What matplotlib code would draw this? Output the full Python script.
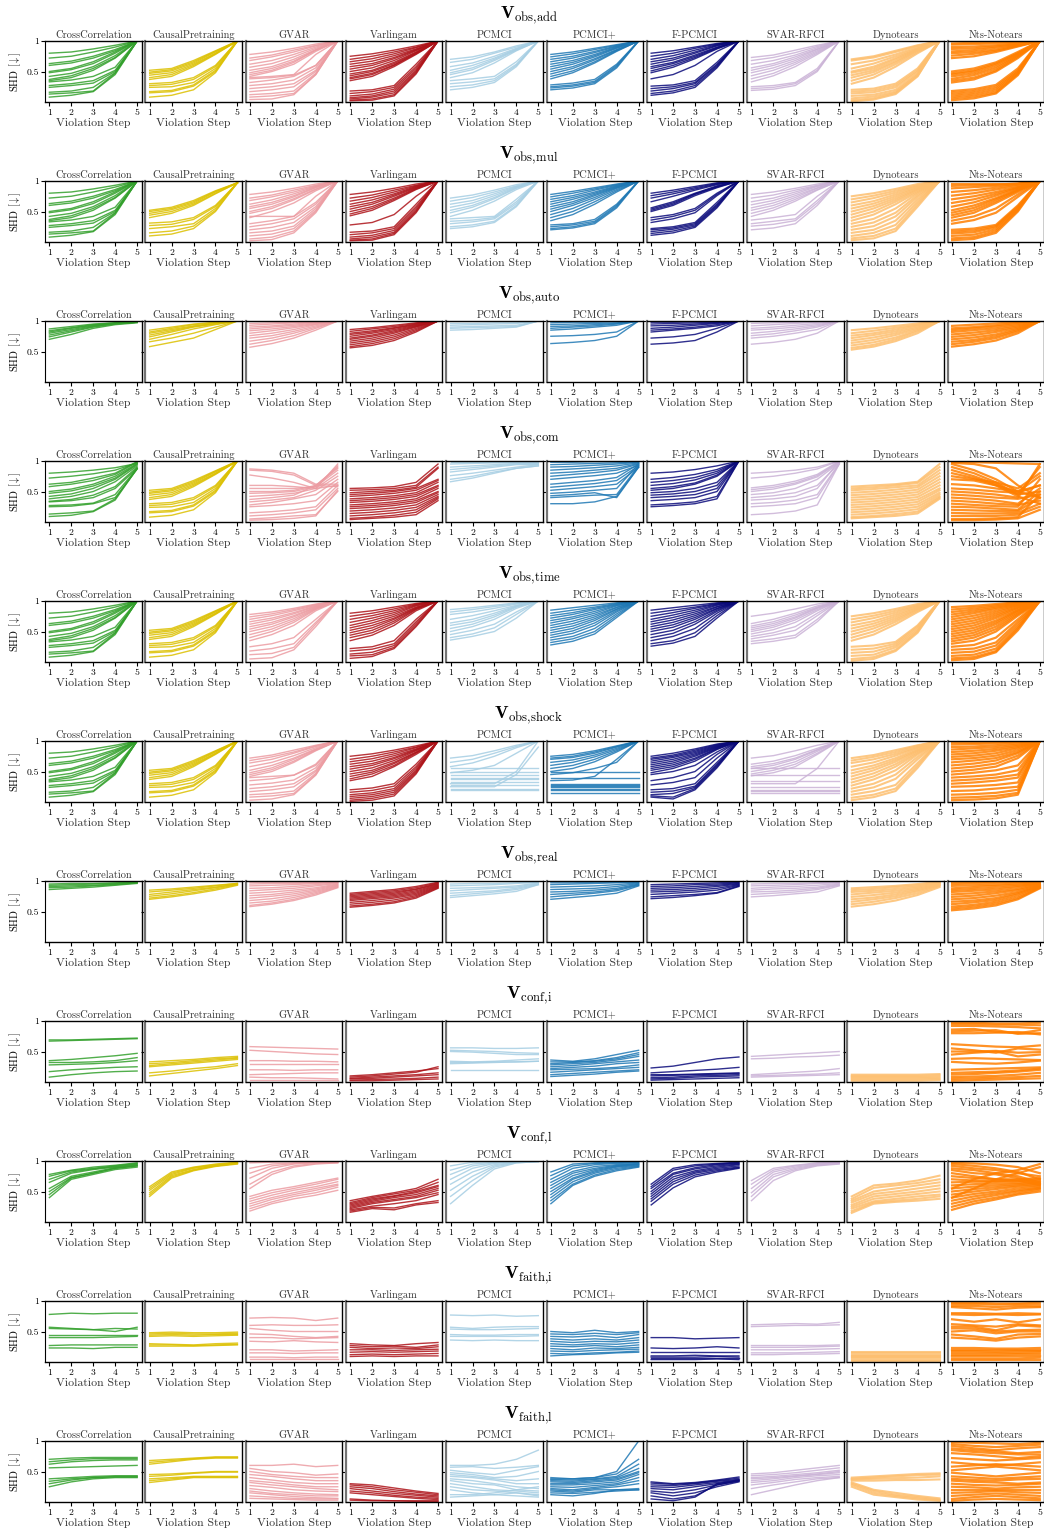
import matplotlib
matplotlib.use("Agg")
import matplotlib.pyplot as plt

plt.rcParams['font.family'] = ['cmr10', 'DejaVu Serif']
plt.rcParams['mathtext.fontset'] = 'cm'
plt.rcParams['axes.formatter.use_mathtext'] = True

METHODS = ["CrossCorrelation", "CausalPretraining", "GVAR", "Varlingam", "PCMCI",
           "PCMCI+", "F-PCMCI", "SVAR-RFCI", "Dynotears", "Nts-Notears"]
COLORS = ["#33a02c", "#dcc000", "#ec9ca2", "#ad1319", "#a6cee3",
          "#1f78b4", "#0a0a7a", "#cab2d6", "#fdbf6f", "#ff7f00"]
STEPS = [1, 2, 3, 4, 5]
Y_TICKS = [0.5, 1.0]
Y_TICK_LABELS = ["0.5", "1"]
ROW_TITLES = [r"$\mathbf{V}_{\mathrm{obs,\!add}}$", r"$\mathbf{V}_{\mathrm{obs,\!mul}}$",
              r"$\mathbf{V}_{\mathrm{obs,\!auto}}$", r"$\mathbf{V}_{\mathrm{obs,\!com}}$",
              r"$\mathbf{V}_{\mathrm{obs,\!time}}$", r"$\mathbf{V}_{\mathrm{obs,\!shock}}$",
              r"$\mathbf{V}_{\mathrm{obs,\!real}}$", r"$\mathbf{V}_{\mathrm{conf,\!i}}$",
              r"$\mathbf{V}_{\mathrm{conf,\!l}}$", r"$\mathbf{V}_{\mathrm{faith,\!i}}$",
              r"$\mathbf{V}_{\mathrm{faith,\!l}}$"]

# SHD values in percent, one list of 5 values (steps 1..5) per line
CC_BASE = [[80,82,87,93,100],[72,75,82,90,100],[63,67,75,86,100],[60,64,72,84,100],
           [50,55,66,82,100],[48,53,63,80,100],[42,47,58,76,100],[37,43,55,73,100],
           [35,40,52,72,100],[33,36,42,57,100],[27,30,35,52,100],[24,27,31,50,100],
           [16,18,24,48,100],[13,15,18,47,100],[8,11,17,45,100]]
CP_BASE = [[52,55,68,84,100],[49,53,66,83,100],[47,51,64,82,100],[44,48,62,80,100],
           [40,45,60,79,100],[37,42,58,78,100],[30,32,40,60,100],[27,29,37,58,100],
           [24,25,32,55,100],[17,19,28,52,100],[15,17,26,50,100],[8,11,20,48,100]]

OBS_ADD = [
    CC_BASE,
    CP_BASE,
    [[78,82,88,95,100],[72,77,85,93,100],[68,74,82,92,100],[62,68,78,90,100],[57,63,74,88,100],
     [52,58,70,86,100],[48,55,67,85,100],[45,52,65,85,100],[42,50,62,83,100],[40,42,45,78,100],
     [38,40,44,60,100],[32,36,42,60,100],[27,30,36,56,100],[22,25,30,52,100],[17,20,25,50,100],
     [12,14,18,47,100],[8,10,14,45,100],[4,5,12,45,100]],
    [[75,79,85,92,100],[70,75,82,90,100],[66,71,79,89,100],[62,67,76,87,100],[58,63,73,86,100],
     [54,60,71,85,100],[50,56,68,84,100],[46,52,65,82,100],[43,50,63,81,100],[40,47,61,80,100],
     [38,45,60,79,100],[35,42,58,78,100],[18,20,27,62,100],[14,17,24,58,100],[10,13,21,55,100],
     [7,10,18,52,100],[5,8,15,50,100],[3,5,12,48,100],[2,3,10,46,100]],
    [[70,74,82,92,100],[65,70,80,90,100],[58,64,75,88,100],[52,60,72,87,100],[48,56,70,86,100],
     [45,53,68,85,100],[40,48,64,84,100],[35,38,42,66,100],[30,33,38,62,100],[25,28,35,60,100],
     [20,24,32,58,100]],
    [[78,82,88,94,100],[74,79,86,93,100],[70,75,83,92,100],[66,72,81,91,100],[62,68,78,90,100],
     [58,65,76,89,100],[54,62,74,88,100],[50,58,71,86,100],[46,55,69,85,100],[42,51,66,84,100],
     [38,48,64,83,100],[28,31,37,62,100],[25,28,34,60,100],[23,26,32,58,100],[20,23,30,56,100]],
    [[80,84,90,96,100],[75,80,88,95,100],[70,76,85,94,100],[66,72,82,93,100],[62,69,80,92,100],
     [58,65,77,90,100],[55,63,75,89,100],[51,60,73,88,100],[48,57,71,87,100],[38,45,60,83,100],
     [26,28,35,65,100],[22,25,32,62,100],[18,22,30,60,100],[14,18,27,58,100],[11,15,24,56,100]],
    [[73,77,85,93,100],[68,73,81,91,100],[62,68,77,89,100],[56,63,74,87,100],[52,60,71,86,100],
     [48,56,68,84,100],[43,52,65,82,100],[38,47,62,80,100],[33,43,58,78,100],[25,27,32,55,100],
     [22,24,30,52,100],[19,21,27,50,100]],
    [[70,75,84,93,100],[68,73,82,92,100],[62,68,78,90,100],[55,63,75,88,100],[50,58,72,87,100],
     [48,55,70,86,100],[44,52,67,85,100],[40,49,65,84,100],[35,45,62,82,100],[30,40,58,80,100],
     [20,22,30,55,100],[17,19,27,52,100],[14,16,24,50,100],[10,12,20,47,100],[6,9,17,45,100],
     [3,6,15,43,100],[1,4,13,42,100]],
    [[96,97,98,99,100],[94,95,96,97,100],[90,91,93,96,100],[87,88,91,95,100],[83,85,89,94,100],
     [80,82,86,93,100],[76,79,84,92,100],[72,75,82,91,100],[50,55,65,82,100],[47,52,63,80,100],
     [45,50,61,79,100],[42,47,58,77,100],[38,44,55,76,100],[35,40,52,74,100],[32,37,50,72,100],
     [18,21,28,55,100],[15,18,25,52,100],[12,15,22,50,100],[9,12,19,48,100],[6,9,16,46,100],
     [3,6,14,44,100]],
]

OBS_MUL = [
    CC_BASE,
    [[52,57,68,84,97],[50,55,66,83,97],[47,53,64,82,97],[44,50,62,80,97],[40,47,60,79,97],
     [31,33,40,60,97],[27,29,37,58,97],[22,25,30,55,97],[15,18,26,52,97],[10,13,22,50,97]],
    [[78,82,88,95,100],[72,77,85,93,100],[68,74,82,92,100],[62,69,79,91,100],[58,65,76,90,100],
     [55,62,74,89,100],[50,58,71,87,100],[47,55,69,86,100],[42,42,42,75,100],[40,50,64,84,100],
     [30,35,42,65,100],[25,30,38,62,100],[20,24,32,58,100],[15,18,26,55,100],[10,13,22,52,100],
     [5,8,18,50,100],[2,4,15,48,100]],
    [[78,82,88,95,100],[72,77,85,93,100],[67,73,82,92,100],[62,69,79,91,100],[58,65,77,90,100],
     [54,62,75,89,100],[50,58,72,88,100],[46,55,70,87,100],[43,52,68,86,100],[28,32,45,75,100],
     [16,18,25,62,100],[12,15,22,58,100],[8,11,19,55,100],[5,8,16,52,100],[3,5,14,50,100],
     [2,3,12,48,100]],
    [[72,77,85,94,100],[67,73,82,92,100],[62,68,79,91,100],[57,64,76,90,100],[52,60,73,89,100],
     [48,57,71,88,100],[42,52,67,86,100],[38,40,42,70,100],[34,36,40,66,100],[30,33,38,63,100],
     [25,28,34,60,100],[22,25,32,58,100]],
    [[78,83,89,95,100],[74,80,87,94,100],[70,76,85,93,100],[66,73,82,92,100],[62,70,80,91,100],
     [58,66,78,90,100],[54,63,76,89,100],[50,60,73,88,100],[45,55,70,86,100],[40,50,66,84,100],
     [35,45,62,82,100],[28,30,37,62,100],[25,28,34,60,100],[22,25,32,58,100],[20,23,30,56,100]],
    [[80,85,91,97,100],[76,82,89,96,100],[72,79,87,95,100],[66,75,85,94,100],[56,66,80,92,100],
     [54,64,79,91,100],[52,62,78,90,100],[50,60,76,89,100],[40,45,55,80,100],[36,42,52,78,100],
     [32,38,48,76,100],[22,25,32,65,100],[20,23,30,62,100],[17,21,28,60,100],[14,18,26,58,100],
     [11,15,24,56,100]],
    [[78,82,88,95,100],[72,77,85,93,100],[66,72,82,92,100],[61,68,79,91,100],[56,64,76,89,100],
     [52,60,73,88,100],[47,56,70,86,100],[42,52,67,85,100],[36,40,45,75,100],[30,34,38,68,100],
     [26,29,35,64,100],[20,23,30,60,100]],
    [[75,80,87,95,100],[70,76,84,93,100],[65,72,81,92,100],[60,67,78,90,100],[55,63,75,89,100],
     [50,59,72,87,100],[45,55,69,86,100],[40,50,66,84,100],[35,45,62,82,100],[30,38,55,80,100],
     [25,32,48,77,100],[20,26,42,74,100],[15,20,35,70,100],[10,15,28,66,100],[6,10,22,62,100],
     [3,6,18,58,100]],
    [[95,95,95,95,100],[92,93,94,96,100],[88,90,92,95,100],[82,85,89,94,100],[76,80,86,92,100],
     [70,75,82,90,100],[64,70,79,89,100],[58,65,76,88,100],[52,60,72,86,100],[48,56,70,85,100],
     [44,52,67,84,100],[40,48,64,82,100],[35,42,55,78,100],[30,36,48,74,100],[20,22,28,60,100],
     [17,19,26,58,100],[14,16,24,56,100],[10,12,21,54,100],[6,8,18,52,100],[3,5,15,50,100]],
]

OBS_AUTO = [
    [[87,91,95,97,98],[84,89,94,97,98],[82,88,93,96,98],[80,86,92,96,98],[77,84,91,96,98],
     [74,82,90,95,98],[70,78,88,94,97]],
    [[85,90,95,98,100],[82,88,94,97,100],[80,86,92,96,100],[77,84,91,96,100],[74,82,90,95,100],
     [70,78,87,94,100],[66,72,80,90,100],[58,65,72,86,100]],
    [[96,97,98,99,100],[93,95,97,98,100],[90,92,95,98,100],[87,90,93,97,100],[84,87,91,96,100],
     [80,84,89,95,100],[76,80,86,94,100],[72,76,83,92,100],[67,72,80,90,100],[62,68,76,88,100],
     [57,63,72,85,100]],
    [[86,89,93,97,100],[83,87,91,96,100],[80,84,89,95,100],[78,82,88,94,100],[75,80,86,93,100],
     [72,77,84,92,100],[70,75,82,91,100],[67,72,80,90,100],[64,69,77,88,100],[61,66,74,86,100],
     [58,63,71,84,100],[56,60,68,82,100]],
    [[96,96,97,97,100],[93,94,95,96,100],[90,91,92,93,100],[88,89,90,91,100],[85,86,88,90,100]],
    [[97,98,98,99,100],[94,95,96,97,100],[91,92,94,96,100],[88,90,92,95,100],[85,87,90,93,100],
     [75,76,78,82,100],[63,65,68,75,100]],
    [[98,98,99,99,100],[95,96,97,98,100],[92,93,95,97,100],[88,90,93,96,100],[85,87,90,94,100],
     [82,85,88,92,100],[72,74,78,88,100],[62,64,68,82,100]],
    [[96,97,98,99,100],[92,94,96,98,100],[88,90,93,96,100],[85,87,90,94,100],[80,83,87,92,100],
     [76,79,84,90,100],[72,75,80,86,100],[62,65,70,80,100]],
    [[85,88,92,96,100],[80,84,89,94,100],[76,80,86,93,100],[72,77,83,91,100],[68,73,80,89,100],
     [64,69,77,87,100],[60,65,73,85,100],[56,61,70,83,100],[53,58,67,80,100]],
    [[92,94,96,98,100],[88,90,93,97,100],[85,88,91,95,100],[82,85,88,93,100],[78,81,85,91,100],
     [74,77,82,89,100],[70,73,78,87,100],[66,69,75,85,100],[62,66,72,83,100],[58,62,68,80,100]],
]

OBS_COM = [
    [[80,82,85,89,96],[72,75,79,85,97],[62,65,72,80,99],[58,62,68,78,98],[50,54,62,75,96],
     [47,51,59,72,95],[42,46,55,70,94],[38,42,50,66,92],[34,37,44,58,90],[33,35,40,55,88],
     [27,28,31,45,88],[25,26,30,40,87],[13,15,18,38,87],[9,11,17,36,88]],
    CP_BASE,
    [[87,85,80,62,62],[85,83,77,60,58],[77,72,65,55,60],[60,60,58,55,95],[55,55,55,58,92],
     [50,50,52,60,88],[47,48,50,58,85],[42,44,47,55,80],[37,40,44,60,90],[33,36,40,52,75],
     [28,32,38,45,70],[25,27,30,35,65],[15,17,20,25,60],[10,12,15,20,55],[5,7,10,12,50],
     [3,4,6,10,52]],
    [[55,56,58,65,95],[52,53,55,60,90],[48,50,52,57,88],[45,47,50,55,70],[42,44,47,52,68],
     [38,40,43,48,65],[35,37,40,45,60],[32,34,37,42,58],[28,30,33,38,55],[25,27,30,35,50],
     [22,24,27,32,48],[18,20,23,28,45],[14,16,19,24,42],[10,12,15,20,40],[6,8,11,16,38],
     [4,6,8,12,35]],
    [[98,98,98,98,98],[95,96,97,97,97],[90,92,94,96,96],[86,89,92,95,95],[82,86,90,94,94],
     [76,80,85,90,94],[70,75,82,88,92],[66,72,80,88,92]],
    [[98,98,99,99,99],[94,95,96,97,99],[90,91,93,95,98],[85,87,89,92,97],[80,82,85,88,96],
     [75,78,81,85,95],[70,73,76,80,93],[62,65,68,73,95],[57,60,63,68,92],[52,55,58,62,90],
     [47,49,52,55,95],[43,45,48,40,90],[40,42,44,45,92],[30,30,33,42,90]],
    [[80,82,86,92,100],[70,73,78,86,100],[65,68,73,83,100],[60,63,69,80,100],[55,58,64,77,100],
     [52,55,62,75,100],[48,50,55,65,100],[44,46,50,60,100],[40,42,45,55,100],[35,37,40,50,100],
     [28,30,33,42,100],[25,27,30,38,100]],
    [[80,82,85,90,100],[72,75,80,87,100],[56,60,67,78,100],[53,57,64,76,99],[50,54,62,74,98],
     [45,48,55,70,97],[40,43,48,60,96],[36,38,42,55,100],[30,32,36,45,96],[25,27,30,40,95],
     [12,14,18,28,95]],
    [[58,60,62,66,95],[55,57,60,64,90],[52,54,57,60,85],[48,50,53,57,80],[44,46,49,53,75],
     [40,42,45,49,70],[36,38,41,45,65],[32,34,37,41,60],[28,30,33,37,55],[24,26,29,33,52],
     [20,22,25,29,48],[16,18,21,25,45],[12,14,17,21,42],[8,10,13,17,40],[6,8,10,14,38]],
    [[98,98,97,96,95],[97,95,88,60,40],[95,85,70,50,60],[90,80,65,45,90],[85,75,62,45,50],
     [80,72,60,50,40],[75,70,65,55,80],[70,68,60,42,30],[62,60,55,50,75],[55,53,50,48,60],
     [50,48,45,40,95],[45,43,40,38,45],[40,38,35,30,55],[35,33,30,28,35],[30,28,26,25,70],
     [25,24,22,20,50],[20,19,18,18,40],[15,14,14,15,30],[10,10,10,12,25],[5,5,6,8,45],
     [3,3,4,6,20]],
]

OBS_TIME = [
    CC_BASE,
    CP_BASE,
    [[78,82,88,95,100],[74,79,86,94,100],[70,76,84,93,100],[66,72,81,92,100],[62,69,79,91,100],
     [58,65,76,90,100],[54,62,74,89,100],[50,58,71,88,100],[45,54,68,87,100],[40,50,65,86,100],
     [35,45,60,84,100],[25,30,40,70,100],[18,22,30,65,100],[12,14,24,62,100],[5,7,20,58,100]],
    [[80,84,90,96,100],[75,80,87,95,100],[70,76,84,94,100],[65,72,81,93,100],[60,68,78,92,100],
     [56,64,75,90,100],[52,60,72,89,100],[48,56,70,88,100],[44,52,67,87,100],[40,48,64,86,100],
     [35,44,60,84,100],[22,25,35,70,100],[18,21,30,66,100],[13,16,27,63,100],[10,12,24,60,100],
     [6,9,22,58,100]],
    [[86,89,93,97,100],[82,86,91,96,100],[78,82,88,95,100],[70,76,84,93,100],[64,70,80,92,100],
     [60,66,77,91,100],[55,62,74,90,100],[50,58,70,88,100],[45,52,62,82,100],[40,46,56,78,100],
     [36,42,50,72,100]],
    [[85,89,93,97,100],[80,85,90,96,100],[76,81,88,95,100],[72,78,86,94,100],[68,74,83,93,100],
     [64,71,80,92,100],[60,67,77,90,100],[56,63,74,89,100],[52,59,71,87,100],[48,55,68,86,100],
     [44,51,64,84,100],[40,47,60,82,100],[36,42,55,79,100],[32,38,50,76,100],[28,34,46,73,100]],
    [[85,89,93,97,100],[80,85,90,96,100],[75,81,88,95,100],[70,77,85,94,100],[66,73,82,93,100],
     [62,69,79,91,100],[58,65,76,90,100],[54,61,73,88,100],[50,57,70,87,100],[45,52,66,85,100],
     [40,47,62,83,100],[35,42,55,80,100],[30,35,48,76,100],[26,31,42,72,100]],
    [[75,80,87,95,100],[63,70,80,92,100],[59,66,77,90,100],[56,63,74,89,100],[53,60,72,88,100],
     [50,57,69,86,100],[46,53,65,84,100],[42,48,58,80,100],[38,44,52,76,100],[34,38,44,70,100],
     [30,34,40,66,100]],
    [[75,80,87,95,100],[70,76,84,93,100],[65,72,81,92,100],[60,67,78,90,100],[55,63,75,89,100],
     [50,59,72,87,100],[45,55,69,86,100],[40,50,66,84,100],[35,45,62,82,100],[25,27,33,60,100],
     [20,22,30,58,100],[15,17,27,55,100],[10,12,24,52,100],[5,8,20,50,100],[2,5,18,48,100]],
    [[90,92,95,98,100],[86,89,93,97,100],[82,86,91,96,100],[78,83,89,95,100],[74,80,87,94,100],
     [70,76,84,93,100],[66,72,81,92,100],[62,68,78,90,100],[58,64,75,89,100],[54,60,72,87,100],
     [50,56,68,85,100],[46,52,65,84,100],[42,48,62,82,100],[38,44,58,80,100],[34,40,54,78,100],
     [30,35,50,76,100],[25,28,40,70,100],[20,22,32,66,100],[15,17,27,62,100],[10,12,22,58,100],
     [6,8,18,55,100],[3,5,16,52,100]],
]

OBS_SHOCK = [
    CC_BASE,
    CP_BASE,
    [[72,77,85,93,100],[68,74,82,92,100],[64,70,80,91,100],[58,65,76,89,100],[52,60,72,87,100],
     [48,56,70,86,100],[45,53,67,85,100],[42,50,65,84,100],[40,42,44,62,100],[35,38,44,60,100],
     [28,31,36,56,100],[22,25,30,52,100],[17,20,25,50,100],[12,14,18,47,100],[8,10,14,45,100],
     [3,5,12,44,100]],
    [[75,79,85,92,100],[70,75,82,90,100],[66,71,79,89,100],[62,67,76,87,100],[58,63,73,86,100],
     [54,60,71,85,100],[50,56,68,84,100],[46,52,65,82,100],[42,49,63,81,100],[38,46,60,80,100],
     [35,42,58,78,100],[20,23,30,62,100],[16,19,26,58,100],[12,15,22,55,100],[9,12,19,52,100],
     [6,9,16,50,100],[3,6,13,48,100],[1,3,10,46,100]],
    [[72,76,84,93,100],[65,70,80,91,100],[58,64,75,89,100],[55,55,55,55,55],[50,50,50,50,50],
     [48,52,60,80,100],[45,45,45,45,45],[40,40,40,40,40],[37,37,37,37,37],[33,33,33,33,33],
     [30,30,30,50,100],[28,28,28,28,28],[25,25,25,45,90],[22,22,22,22,22],[20,20,20,20,20]],
    [[75,78,84,92,100],[72,75,82,91,100],[70,73,80,90,100],[65,69,77,88,100],[60,65,74,86,100],
     [55,60,70,84,100],[50,55,66,82,100],[45,48,55,65,100],[50,50,50,50,50],[40,40,40,40,40],
     [35,36,42,70,100],[30,30,30,30,30],[28,28,28,28,28],[26,26,26,26,26],[24,24,24,24,24],
     [22,22,22,22,22],[20,20,20,20,20],[15,15,15,15,15]],
    [[75,80,87,95,100],[72,77,85,94,100],[70,75,83,93,100],[67,73,81,92,100],[64,70,79,91,100],
     [61,67,77,90,100],[58,64,75,89,100],[55,61,72,88,100],[52,58,70,87,100],[48,55,67,86,100],
     [45,50,60,82,100],[35,40,50,78,100],[28,32,40,72,100],[20,22,30,65,100],[16,18,26,62,100],
     [12,14,24,60,100],[10,8,22,58,100],[8,5,20,56,100]],
    [[72,76,84,93,100],[62,67,76,88,100],[58,63,72,86,100],[55,60,70,85,100],[50,56,66,83,100],
     [46,52,62,80,100],[43,48,58,78,100],[55,55,55,55,55],[45,45,45,45,45],[35,35,35,35,35],
     [30,30,30,55,100],[25,25,25,25,25],[20,20,20,20,20],[18,18,18,18,18],[15,15,15,15,15]],
    [[72,77,85,93,100],[68,74,82,92,100],[64,70,79,90,100],[58,65,76,89,100],[52,60,72,87,100],
     [47,56,69,85,100],[42,52,66,84,100],[37,47,62,82,100],[32,42,58,80,100],[27,37,52,78,100],
     [22,30,45,74,100],[17,24,38,70,100],[12,18,28,64,100],[7,12,22,60,100],[3,8,18,56,100]],
    [[97,97,98,99,100],[94,95,96,98,100],[90,91,93,96,100],[86,88,90,94,100],[82,84,87,92,100],
     [78,80,84,90,100],[74,76,80,88,100],[70,72,76,85,100],[65,68,72,82,100],[60,63,68,80,100],
     [55,58,63,76,100],[50,53,58,72,100],[45,48,52,60,100],[40,42,45,52,100],[35,37,40,45,100],
     [30,32,35,40,100],[25,26,28,32,100],[18,19,22,25,100],[12,13,15,20,100],[7,8,10,15,100],
     [3,4,6,12,100]],
]

OBS_REAL = [
    [[95,96,96,97,98],[93,94,95,96,98],[91,92,93,95,97],[89,90,92,94,97],[86,88,90,93,96]],
    [[85,87,90,93,96],[82,85,88,92,96],[78,82,86,90,95],[75,79,84,89,95],[72,76,81,87,94],
     [70,74,79,85,93]],
    [[98,98,98,98,99],[95,96,96,97,98],[92,93,94,96,98],[88,89,91,94,97],[84,86,88,92,96],
     [80,82,85,89,95],[76,78,82,87,94],[72,75,79,85,93],[68,71,76,83,92],[64,67,73,81,91],
     [60,64,70,79,90],[58,62,68,77,89]],
    [[80,83,86,91,98],[78,81,84,89,97],[76,79,82,87,96],[74,77,80,86,95],[72,75,78,84,94],
     [70,73,76,82,93],[68,71,74,80,92],[65,68,72,78,91],[62,65,69,76,90],[59,62,66,74,89],
     [57,60,64,72,88]],
    [[95,96,96,97,98],[92,93,94,96,98],[88,89,90,92,97],[84,86,88,90,96],[80,82,84,88,95],
     [76,79,82,86,94],[73,76,79,83,94]],
    [[97,97,98,98,99],[94,95,96,97,98],[90,91,92,94,97],[86,87,88,91,96],[82,83,85,88,95],
     [78,80,82,86,94],[74,77,80,84,93],[70,73,76,80,92]],
    [[94,95,96,97,98],[91,92,94,95,97],[88,89,91,93,96],[85,86,88,91,95],[82,83,85,88,94],
     [78,80,82,85,93],[74,76,78,81,92],[71,73,76,80,91]],
    [[95,96,96,97,98],[92,93,94,96,97],[88,90,91,93,96],[85,87,88,90,95],[82,83,85,88,94],
     [78,80,82,86,93],[74,76,79,82,92]],
    [[88,90,92,95,99],[85,87,90,93,98],[82,84,87,91,97],[78,81,84,89,96],[74,77,81,87,95],
     [70,73,78,85,94],[66,70,75,83,93],[62,66,72,80,92],[58,62,68,77,90]],
    [[98,98,99,99,100],[95,96,97,98,99],[92,93,94,96,98],[88,90,92,94,97],[85,87,89,92,96],
     [82,84,86,90,96],[78,80,83,87,95],[74,76,80,85,94],[70,72,76,82,93],[66,68,72,80,92],
     [62,65,69,78,91],[58,61,66,75,90],[55,58,63,72,89],[52,55,60,70,88]],
]

CONF_I = [
    [[67,68,69,70,71],[69,69,70,71,72],[35,37,40,43,47],[32,32,33,35,40],[28,29,30,32,35],
     [17,20,22,24,25],[8,12,15,17,18]],
    [[33,35,37,40,42],[30,32,35,38,40],[27,30,33,36,39],[25,28,31,34,37],[15,18,22,25,30],
     [10,14,18,22,27]],
    [[58,57,56,55,54],[52,50,48,46,45],[35,35,34,34,33],[30,30,30,30,30],[20,20,19,20,20],
     [12,13,14,15,15],[8,7,7,6,5],[3,3,3,3,3]],
    [[10,12,15,18,22],[8,10,13,16,25],[6,8,10,12,15],[5,6,8,10,12],[3,4,5,6,8],[2,2,3,4,5]],
    [[56,56,55,55,56],[52,51,50,48,47],[50,49,47,45,45],[34,33,34,36,38],[32,32,33,33,34],
     [30,31,32,33,34],[20,20,20,20,20]],
    [[36,34,38,45,52],[33,33,35,40,48],[30,32,34,38,45],[28,30,32,36,42],[25,27,30,33,36],
     [22,24,26,30,32],[20,21,22,24,28],[16,18,20,22,24],[12,14,16,18,20],[9,11,13,16,18]],
    [[23,26,32,38,41],[15,17,19,21,24],[12,12,13,14,15],[10,11,12,13,14],[7,8,10,11,12],
     [5,6,8,9,10],[3,4,5,6,7]],
    [[42,44,46,48,50],[38,39,41,42,44],[12,14,16,18,22],[10,11,12,13,15],[8,9,10,11,12]],
    [[12,12,12,12,13],[10,10,10,10,11],[8,8,8,8,9],[6,6,6,6,7],[4,4,4,4,5],[2,2,2,2,3]],
    [[97,97,96,96,97],[95,95,94,94,93],[92,92,91,90,88],[86,87,82,80,85],[83,84,85,79,80],
     [80,80,81,82,78],[62,60,58,57,60],[55,52,48,55,53],[50,50,51,48,49],[45,48,50,42,45],
     [38,39,38,37,36],[33,31,30,32,35],[20,21,22,23,24],[15,16,17,19,22],[12,13,15,17,20],
     [8,9,10,12,15],[5,6,7,8,10],[2,3,4,5,6]],
]

CONF_L = [
    [[78,85,90,93,97],[75,84,88,92,96],[70,82,87,91,95],[65,80,86,90,94],[55,75,82,89,93],
     [50,73,80,88,92],[45,72,80,88,92],[40,70,78,86,90]],
    [[58,82,90,95,98],[55,80,89,94,97],[52,78,88,93,97],[48,76,86,92,96],[45,74,85,92,96],
     [42,72,84,91,95]],
    [[97,98,99,99,99],[88,95,97,98,99],[80,92,96,98,98],[72,88,95,97,98],[62,82,92,96,97],
     [55,78,90,95,97],[42,52,58,65,72],[38,48,55,62,70],[34,44,52,58,66],[30,40,48,55,62],
     [26,37,45,52,60],[22,33,42,48,57],[18,30,38,44,52]],
    [[35,42,48,55,70],[32,40,46,52,65],[30,38,43,50,60],[28,36,42,48,58],[26,34,40,45,55],
     [24,32,37,42,52],[22,30,35,40,48],[20,26,30,35,45],[18,24,23,30,35],[16,22,20,28,32]],
    [[92,98,99,100,100],[85,95,98,99,100],[78,92,97,99,100],[70,88,96,99,100],[62,82,94,98,100],
     [52,75,92,98,99],[42,68,90,97,99],[30,60,87,97,99]],
    [[82,95,97,98,99],[76,92,96,97,98],[70,88,94,96,97],[65,83,91,94,96],[60,80,88,93,95],
     [55,76,86,92,95],[50,72,84,91,94],[45,70,82,90,93],[40,66,80,88,92],[35,62,77,86,91],
     [30,60,75,84,90]],
    [[62,88,94,96,98],[58,85,92,95,97],[55,80,89,94,96],[50,78,87,92,95],[46,74,84,90,94],
     [42,70,82,88,92],[38,66,80,86,90],[34,62,77,84,89],[28,56,74,82,88]],
    [[68,88,93,97,98],[62,85,92,96,97],[55,82,90,95,97],[48,78,88,94,96],[42,74,86,93,96],
     [35,68,84,92,95]],
    [[42,60,63,68,76],[38,56,60,64,70],[35,50,55,60,65],[32,46,50,55,60],[28,42,46,50,55],
     [25,38,42,46,50],[22,34,38,42,45],[18,32,35,38,42],[15,30,33,35,38]],
    [[97,96,94,90,80],[95,92,88,82,70],[92,88,85,80,75],[88,85,80,75,65],[85,80,78,72,62],
     [80,75,70,68,60],[75,72,70,70,72],[70,68,67,68,70],[65,66,66,67,68],[60,62,63,64,66],
     [55,58,60,62,64],[50,54,57,60,62],[45,50,54,58,60],[40,46,50,55,58],[35,42,47,52,56],
     [30,38,44,50,55],[25,34,40,47,53],[20,30,37,45,50],[55,70,80,85,95],[40,55,70,80,90]],
]

FAITH_I = [
    [[78,80,79,80,80],[57,55,53,50,57],[55,54,53,55,54],[45,45,45,45,45],[40,40,40,41,42],
     [27,28,28,28,28],[23,23,22,24,24]],
    [[48,49,48,48,49],[46,47,46,46,47],[44,45,44,45,45],[42,43,42,43,44],[30,29,28,30,31],
     [28,28,27,28,29],[26,26,26,27,28]],
    [[72,73,72,68,72],[60,61,60,60,61],[55,52,50,50,50],[46,45,42,40,42],[40,40,38,39,40],
     [34,33,35,33,32],[20,20,18,19,20],[15,15,14,15,15],[8,8,7,8,8],[5,5,5,5,5]],
    [[30,28,27,30,32],[27,25,26,24,28],[24,22,23,22,25],[20,20,19,20,21],[16,17,16,17,18],
     [12,13,12,13,14],[9,10,9,10,10]],
    [[77,76,77,75,76],[57,55,57,58,58],[54,53,53,54,55],[45,44,44,45,45],[42,42,42,42,43],
     [36,35,36,35,35]],
    [[50,48,52,48,50],[46,45,47,45,48],[42,41,43,40,45],[38,36,38,36,40],[34,32,34,33,36],
     [30,28,30,29,32],[26,25,27,25,28],[22,20,23,22,24],[18,17,19,20,21],[14,13,15,16,18],
     [10,12,13,15,16]],
    [[40,40,38,39,40],[23,22,23,25,23],[17,17,17,17,17],[10,10,11,10,10],[8,8,8,9,8],
     [6,6,6,6,6],[4,4,4,5,4]],
    [[61,62,63,62,65],[58,59,60,60,61],[27,27,27,27,28],[24,24,24,25,26],[20,20,20,21,22],
     [15,15,15,16,17],[12,12,13,13,14]],
    [[16,16,16,16,16],[14,14,14,14,14],[12,12,12,12,12],[10,10,10,10,10],[8,8,8,8,8],
     [6,6,6,6,6],[4,4,4,4,4],[2,2,2,2,2]],
    [[97,97,96,96,97],[95,95,94,95,94],[92,92,90,92,91],[90,88,86,89,90],[80,80,79,80,79],
     [78,77,78,77,78],[70,66,70,65,70],[62,60,58,62,60],[58,58,52,60,58],[55,55,50,52,53],
     [50,52,47,50,50],[45,42,38,45,46],[40,38,35,40,42],[23,23,22,22,23],[20,20,20,20,20],
     [18,18,17,18,18],[15,15,15,15,16],[12,12,12,13,13],[10,10,10,10,10],[6,6,6,6,7],
     [3,3,3,3,3]],
]

FAITH_L = [
    [[70,72,73,73,73],[66,69,71,71,71],[62,66,68,69,69],[56,57,58,59,60],[38,40,42,43,43],
     [34,38,40,42,42],[30,36,40,41,41],[25,33,38,40,40]],
    [[68,70,72,74,74],[65,68,71,73,73],[62,66,70,72,72],[45,46,48,50,50],[42,44,47,49,49],
     [38,40,42,42,42],[35,38,41,41,41],[32,36,40,40,40]],
    [[60,60,62,58,60],[55,50,48,44,46],[50,45,42,40,40],[45,42,38,35,35],[40,36,32,30,30],
     [35,32,28,25,25],[32,28,25,22,20],[27,24,20,18,17],[22,18,15,13,12],[18,14,12,10,10],
     [15,12,9,7,6],[10,8,6,5,5],[6,5,4,3,3]],
    [[30,28,23,18,14],[28,25,20,16,12],[25,22,17,13,10],[22,18,14,11,8],[18,15,11,8,6],
     [15,12,9,6,4],[5,3,2,2,2],[3,2,2,1,1]],
    [[60,60,62,70,85],[57,58,55,57,60],[52,48,45,52,58],[48,45,40,42,50],[45,42,38,35,38],
     [42,40,36,30,30],[38,35,30,25,22],[35,30,28,20,18],[30,25,20,18,15],[25,20,18,15,12],
     [20,15,12,10,8],[12,12,15,20,25],[8,10,12,15,10]],
    [[40,38,40,50,100],[38,38,40,46,70],[37,36,38,42,62],[35,34,37,40,55],[33,32,35,38,50],
     [30,30,33,36,48],[28,28,30,33,45],[25,24,27,30,40],[22,20,24,28,35],[20,18,22,25,30],
     [18,16,20,20,20],[15,14,16,18,20],[12,10,14,20,22]],
    [[33,30,32,36,41],[31,29,31,35,39],[28,27,30,34,37],[25,24,28,32,36],[22,20,25,30,35],
     [18,15,20,28,34],[15,10,15,25,33],[10,5,10,28,35],[5,2,8,30,36]],
    [[46,48,52,56,60],[43,45,48,52,56],[40,42,45,48,52],[38,40,43,46,50],[35,38,42,45,48],
     [32,35,40,43,45],[28,32,37,40,42],[22,28,33,38,40],[12,20,28,35,40]],
    [[40,42,44,46,47],[38,40,42,44,45],[37,38,39,40,42],[35,35,36,36,37],[32,20,15,10,6],
     [30,18,12,8,4],[28,15,10,6,3],[25,12,8,4,2]],
    [[98,97,96,95,97],[95,92,90,92,94],[92,88,85,88,90],[88,85,83,80,82],[85,82,80,78,78],
     [80,78,75,72,75],[72,70,68,70,72],[65,62,60,62,65],[58,60,62,60,58],[52,55,58,55,52],
     [48,45,42,45,48],[42,40,38,40,42],[38,36,35,37,38],[35,33,32,30,32],[30,28,27,28,30],
     [25,24,22,24,25],[20,20,20,20,20],[15,16,18,16,15],[10,12,14,12,10],[5,8,10,8,6],
     [2,4,5,4,3]],
]

ROWS = [OBS_ADD, OBS_MUL, OBS_AUTO, OBS_COM, OBS_TIME, OBS_SHOCK, OBS_REAL,
        CONF_I, CONF_L, FAITH_I, FAITH_L]

W, H = 1044, 1536
fig = plt.figure(figsize=(W / 100, H / 100), dpi=100)

PX_LEFT, PX_PITCH_X, PX_W = 45, 100.3, 96.5
PX_TOP, PX_PITCH_Y, PX_H = 41, 140, 61
DENSE = {"Dynotears": 1.5, "Nts-Notears": 1.6}

for r, row in enumerate(ROWS):
    top = PX_TOP + r * PX_PITCH_Y
    for c, lines in enumerate(row):
        left = PX_LEFT + c * PX_PITCH_X
        ax = fig.add_axes([left / W, 1 - (top + PX_H) / H, PX_W / W, PX_H / H])
        lw = DENSE.get(METHODS[c], 1.0)
        for ln in lines:
            ax.plot(STEPS, [v / 100 for v in ln], color=COLORS[c], lw=lw, alpha=0.85,
                    solid_joinstyle='round')
        ax.set_xlim(0.8, 5.2)
        ax.set_ylim(0, 1)
        ax.set_xticks(STEPS)
        ax.set_xticklabels([str(s) for s in STEPS])
        ax.set_yticks(Y_TICKS)
        ax.tick_params(labelsize=7, length=3, width=0.8, pad=1.5)
        if c == 0:
            ax.set_yticklabels(Y_TICK_LABELS)
            ax.set_ylabel(r"SHD [$\downarrow$]", fontsize=7.5, labelpad=2)
        else:
            ax.set_yticklabels([])
            ax.spines['left'].set_color('0.45')
            ax.spines['left'].set_linewidth(1.6)
        for s in ('top', 'right', 'bottom'):
            ax.spines[s].set_linewidth(1.0)
        ax.set_title(METHODS[c], fontsize=7.5, pad=2.5, color='0.2')
        ax.set_xlabel("Violation Step", fontsize=8.5, labelpad=1, color='0.2')
    fig.text(529 / W, 1 - (15 + r * PX_PITCH_Y) / H, ROW_TITLES[r],
             ha='center', va='center', fontsize=13)

fig.savefig("out.png", dpi=100)
